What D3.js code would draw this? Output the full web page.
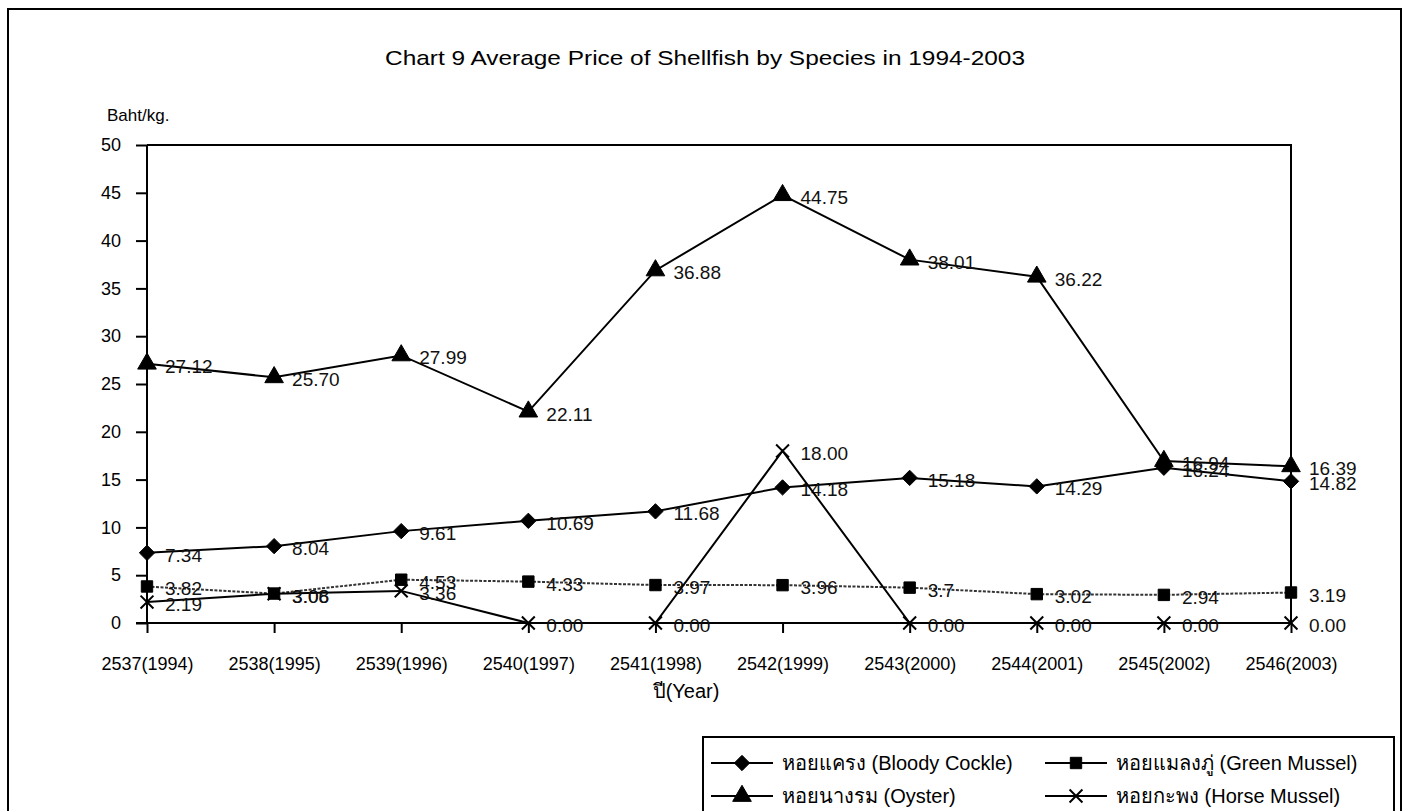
<!doctype html>
<html lang="en">
<head>
  <meta charset="utf-8">
  <title>Chart 9</title>
  <style>
    body { margin: 0; background: #fff; }
    svg { display: block; font-family: "Liberation Sans", Arial, sans-serif; }
    .axis path, .axis line { stroke: #000; stroke-width: 2; }
    .axis text { font-size: 18px; fill: #000; }
    .lbl { font-size: 19px; fill: #111; }
  </style>
</head>
<body>
  <div class="chart"></div>
  <script src="https://d3js.org/d3.v7.min.js"></script>
  <script>
    'use strict';

    const years = ['2537(1994)', '2538(1995)', '2539(1996)', '2540(1997)', '2541(1998)',
                   '2542(1999)', '2543(2000)', '2544(2001)', '2545(2002)', '2546(2003)'];
    const bloodyCockle = [7.34, 8.04, 9.61, 10.69, 11.68, 14.18, 15.18, 14.29, 16.24, 14.82];
    const oyster = [27.12, 25.70, 27.99, 22.11, 36.88, 44.75, 38.01, 36.22, 16.94, 16.39];
    const greenMussel = [3.82, 3.08, 4.53, 4.33, 3.97, 3.96, 3.7, 3.02, 2.94, 3.19];
    const horseMussel = [2.19, 3.06, 3.36, 0, 0, 18.00, 0, 0, 0, 0];
    const yTicks = [0, 5, 10, 15, 20, 25, 30, 35, 40, 45, 50];

    const series = [
      {name: 'หอยแครง (Bloody Cockle)', values: bloodyCockle, symbol: d3.symbolDiamond2, fmt: d3.format('.2f'), dash: null},
      {name: 'หอยนางรม (Oyster)', values: oyster, symbol: d3.symbolTriangle, fmt: d3.format('.2f'), dash: null},
      {name: 'หอยแมลงภู่ (Green Mussel)', values: greenMussel, symbol: d3.symbolSquare, fmt: d => String(d), dash: '3,1.5'},
      {name: 'หอยกะพง (Horse Mussel)', values: horseMussel, symbol: d3.symbolX, fmt: d3.format('.2f'), dash: null}
    ];

    const W = 1408, H = 811;
    const margin = {top: 145, left: 147, right: 117, bottom: 188};
    const width = W - margin.left - margin.right;
    const height = H - margin.top - margin.bottom;

    const svg = d3.select('.chart').append('svg')
      .attr('width', W)
      .attr('height', H);

    // outer frame
    svg.append('rect')
      .attr('x', 8).attr('y', 9)
      .attr('width', 1393).attr('height', H + 10)
      .attr('fill', 'none').attr('stroke', '#000').attr('stroke-width', 2);

    svg.append('text')
      .attr('x', 385).attr('y', 65)
      .attr('textLength', 640)
      .attr('lengthAdjust', 'spacingAndGlyphs')
      .style('font-size', '21px')
      .text('Chart 9 Average Price of Shellfish by Species in 1994-2003');

    svg.append('text')
      .attr('x', 107).attr('y', 121)
      .style('font-size', '17px')
      .text('Baht/kg.');

    const g = svg.append('g')
      .attr('transform', `translate(${margin.left},${margin.top})`);

    const x = d3.scalePoint().domain(years).range([0, width]);
    const y = d3.scaleLinear().domain([0, 50]).range([height, 0]);

    // plot border (top and right)
    g.append('path')
      .attr('d', `M0,0H${width}V${height}`)
      .attr('fill', 'none').attr('stroke', '#000').attr('stroke-width', 2);

    g.append('g')
      .attr('class', 'axis axis--y')
      .call(d3.axisLeft(y).tickValues(yTicks).tickSize(11).tickPadding(15))
      .call(s => s.select('.domain').attr('d', `M0,${height}V0`));

    g.append('g')
      .attr('class', 'axis axis--x')
      .attr('transform', `translate(0,${height})`)
      .call(d3.axisBottom(x).tickSize(10).tickPadding(24))
      .call(s => s.select('.domain').attr('d', `M-11,0H${width}`));

    svg.append('text')
      .attr('x', 686).attr('y', 698)
      .attr('text-anchor', 'middle')
      .style('font-size', '20px')
      .text('ปี(Year)');

    const line = d3.line()
      .x((d, i) => x(years[i]))
      .y(d => y(d));

    const symbolSize = s => s === d3.symbolX ? 110 : (s === d3.symbolSquare ? 130 : 150);

    series.forEach(s => {
      const sg = g.append('g');
      sg.append('path')
        .datum(s.values)
        .attr('d', line)
        .attr('fill', 'none')
        .attr('stroke', s.dash ? '#333' : '#000')
        .attr('stroke-width', 2)
        .attr('stroke-dasharray', s.dash);

      sg.selectAll('.mark')
        .data(s.values)
        .join('path')
        .attr('class', 'mark')
        .attr('transform', (d, i) => `translate(${x(years[i])},${y(d)})`)
        .attr('d', d3.symbol().type(s.symbol).size(symbolSize(s.symbol)))
        .attr('fill', s.symbol === d3.symbolX ? 'none' : '#000')
        .attr('stroke', '#000')
        .attr('stroke-width', s.symbol === d3.symbolX ? 2 : 1);

      sg.selectAll('.lbl')
        .data(s.values)
        .join('text')
        .attr('class', 'lbl')
        .attr('x', (d, i) => x(years[i]) + 18)
        .attr('y', d => y(d) + 9)
        .text(d => s.fmt(d));
    });

    // legend
    const lg = svg.append('g').attr('transform', 'translate(703,737)');
    lg.append('rect')
      .attr('width', 691).attr('height', 90)
      .attr('fill', '#fff').attr('stroke', '#000').attr('stroke-width', 2);

    const legendOrder = [series[0], series[2], series[1], series[3]];
    legendOrder.forEach((s, i) => {
      const col = i % 2, row = Math.floor(i / 2);
      const item = lg.append('g')
        .attr('transform', `translate(${8 + col * 334},${26 + row * 33})`);
      item.append('line')
        .attr('x1', 0).attr('x2', 62)
        .attr('stroke', '#000').attr('stroke-width', 2);
      item.append('path')
        .attr('transform', 'translate(31,0)')
        .attr('d', d3.symbol().type(s.symbol).size(symbolSize(s.symbol)))
        .attr('fill', s.symbol === d3.symbolX ? 'none' : '#000')
        .attr('stroke', '#000')
        .attr('stroke-width', s.symbol === d3.symbolX ? 2 : 1);
      item.append('text')
        .attr('x', 71).attr('y', 7)
        .style('font-size', '20px')
        .text(s.name);
    });
  </script>
</body>
</html>
